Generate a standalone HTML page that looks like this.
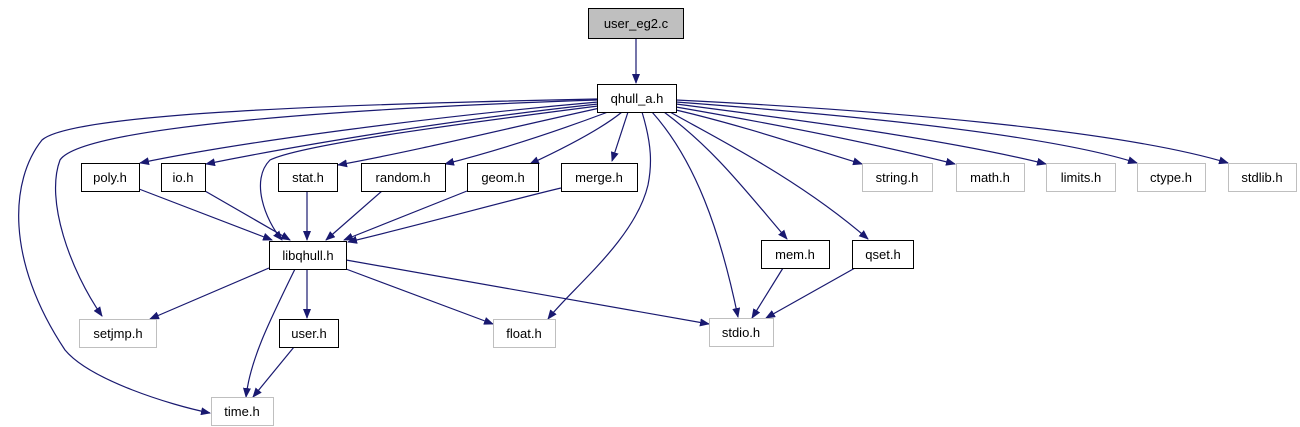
<!DOCTYPE html>
<html><head><meta charset="utf-8"><style>
html,body{margin:0;padding:0;background:#fff;width:1300px;height:427px;overflow:hidden}
svg text{font-family:"Liberation Sans",sans-serif;font-size:13px;text-anchor:middle;fill:#000}
</style></head><body>
<svg width="1300" height="427" viewBox="0 0 1300 427" xmlns="http://www.w3.org/2000/svg">
<defs><marker id="a" markerWidth="10" markerHeight="8" refX="9" refY="4" orient="auto" markerUnits="userSpaceOnUse"><path d="M0,0 L10,4 L0,8 z" fill="#191970"/></marker></defs>
<g fill="none" stroke="#191970" stroke-width="1.2" marker-end="url(#a)">
<path d="M636,38 L636,83"/>
<path d="M597,99 C300,105 70,115 42,140 C10,180 5,260 65,350 C90,380 170,405 210,413"/>
<path d="M597,100 C300,110 80,130 60,160 C45,200 70,270 102,316"/>
<path d="M598,102 C450,115 250,140 140,163"/>
<path d="M598,104 C450,120 300,145 206,164"/>
<path d="M598,106 C450,125 300,145 270,160 C250,180 265,220 282,240"/>
<path d="M600,108 C500,130 420,150 338,165"/>
<path d="M608,112 C560,130 500,150 445,164"/>
<path d="M622,112 C600,130 560,150 530,164"/>
<path d="M628,112 L612,161"/>
<path d="M642,112 C652,145 652,165 648,185 C635,240 570,290 548,319"/>
<path d="M652,112 C695,160 720,230 738,317"/>
<path d="M664,112 C715,150 745,190 787,239"/>
<path d="M670,112 C720,140 800,180 868,239"/>
<path d="M676,110 C740,125 800,145 862,164"/>
<path d="M676,107 C780,125 880,145 955,164"/>
<path d="M676,104 C800,120 950,140 1046,164"/>
<path d="M676,102 C850,115 1050,135 1137,163"/>
<path d="M676,100 C880,110 1120,130 1228,163"/>
<path d="M139,189 L272,240"/>
<path d="M205,191 L290,240"/>
<path d="M307,191 L307,240"/>
<path d="M382,191 L326,240"/>
<path d="M467,191 L344,240"/>
<path d="M561,188 C510,200 420,225 348,242"/>
<path d="M269,268 L150,319"/>
<path d="M295,269 C270,320 250,360 246,397"/>
<path d="M307,269 L307,318"/>
<path d="M346,269 L493,324"/>
<path d="M346,260 L709,324"/>
<path d="M294,347 L253,397"/>
<path d="M783,268 L752,318"/>
<path d="M855,268 L766,318"/>
</g>
<g stroke-width="1">
<rect x="588.5" y="8.5" width="95" height="30" fill="#bfbfbf" stroke="#000"/>
<g fill="#fff" stroke="#000">
<rect x="597.5" y="84.5" width="79" height="28"/>
<rect x="81.5" y="163.5" width="58" height="28"/>
<rect x="161.5" y="163.5" width="44" height="28"/>
<rect x="278.5" y="163.5" width="59" height="28"/>
<rect x="361.5" y="163.5" width="84" height="28"/>
<rect x="467.5" y="163.5" width="71" height="28"/>
<rect x="561.5" y="163.5" width="76" height="28"/>
<rect x="269.5" y="241.5" width="77" height="28"/>
<rect x="761.5" y="240.5" width="68" height="28"/>
<rect x="852.5" y="240.5" width="61" height="28"/>
<rect x="279.5" y="319.5" width="59" height="28"/>
</g>
<g fill="#fff" stroke="#bfbfbf">
<rect x="862.5" y="163.5" width="70" height="28"/>
<rect x="956.5" y="163.5" width="68" height="28"/>
<rect x="1046.5" y="163.5" width="69" height="28"/>
<rect x="1137.5" y="163.5" width="68" height="28"/>
<rect x="1228.5" y="163.5" width="68" height="28"/>
<rect x="79.5" y="319.5" width="77" height="28"/>
<rect x="493.5" y="319.5" width="62" height="28"/>
<rect x="709.5" y="318.5" width="64" height="28"/>
<rect x="211.5" y="397.5" width="62" height="28"/>
</g>
</g>
<text x="636" y="28">user_eg2.c</text>
<text x="637" y="103">qhull_a.h</text>
<text x="110" y="182">poly.h</text>
<text x="183" y="182">io.h</text>
<text x="308" y="182">stat.h</text>
<text x="403" y="182">random.h</text>
<text x="503" y="182">geom.h</text>
<text x="599" y="182">merge.h</text>
<text x="897" y="182">string.h</text>
<text x="990" y="182">math.h</text>
<text x="1081" y="182">limits.h</text>
<text x="1171" y="182">ctype.h</text>
<text x="1262" y="182">stdlib.h</text>
<text x="308" y="260">libqhull.h</text>
<text x="795" y="259">mem.h</text>
<text x="883" y="259">qset.h</text>
<text x="118" y="338">setjmp.h</text>
<text x="309" y="338">user.h</text>
<text x="524" y="338">float.h</text>
<text x="741" y="337">stdio.h</text>
<text x="242" y="416">time.h</text>
</svg>
</body></html>
